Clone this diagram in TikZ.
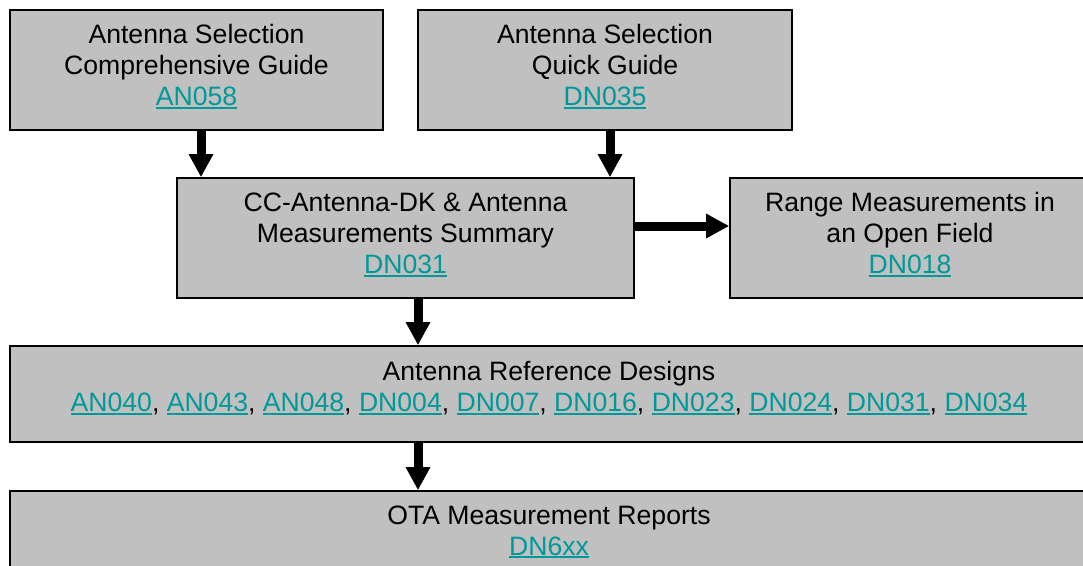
\documentclass[tikz,border=0pt]{standalone}
\usepackage{fontspec}
\setmainfont{Liberation Sans}
\usetikzlibrary{arrows.meta}
\definecolor{boxgray}{RGB}{192,192,192}
\definecolor{linkc}{RGB}{0,153,153}
\newcommand\lnk[1]{{\color{linkc}\setbox0\hbox{#1}\rlap{\rule[-3.2pt]{\wd0}{1.8pt}}\box0}}
\begin{document}
\begin{tikzpicture}[x=1pt,y=-1pt,
  box/.style={draw=black, line width=1.6pt, fill=boxgray, align=center,
    font=\fontsize{26.6}{31}\selectfont, inner sep=0pt},
  tall/.style={box, minimum height=120pt, text depth=9.5pt},
  wide/.style={box, minimum width=1078pt, text depth=15.5pt},
  arr/.style={line width=9pt, -{Triangle[width=23pt,length=23pt]}}]
\useasboundingbox (0,0) rectangle (1083,565);
\clip (0,0) rectangle (1083,565);
\node[tall, minimum width=373pt] (b1) at (196.5,70)
  {Antenna Selection\\Comprehensive Guide\\\lnk{AN058}};
\node[tall, minimum width=374pt] (b2) at (605,70)
  {Antenna Selection\\Quick Guide\\\lnk{DN035}};
\node[tall, minimum width=457pt] (b3) at (405.5,238)
  {CC-Antenna-DK \& Antenna\\Measurements Summary\\\lnk{DN031}};
\node[tall, minimum width=360pt] (b4) at (910,238)
  {Range Measurements in\\an Open Field\\\lnk{DN018}};
\node[wide, minimum height=96pt] (b5) at (549,394)
  {Antenna Reference Designs\\\lnk{AN040}, \lnk{AN043}, \lnk{AN048}, \lnk{DN004}, \lnk{DN007}, \lnk{DN016}, \lnk{DN023}, \lnk{DN024}, \lnk{DN031}, \lnk{DN034}};
\node[wide, minimum height=94pt] (b6) at (549,538)
  {OTA Measurement Reports\\\lnk{DN6xx}};
\coordinate (ca) at (201,0);
\coordinate (cb) at (610,0);
\coordinate (cc) at (418,0);
\coordinate (cy) at (0,226);
\draw[arr] (b1.south -| ca) -- (b3.north -| ca);
\draw[arr] (b2.south -| cb) -- (b3.north -| cb);
\draw[arr] (b3.east |- cy) -- (b4.west |- cy);
\draw[arr] (b3.south -| cc) -- (b5.north -| cc);
\draw[arr] (b5.south -| cc) -- (b6.north -| cc);
\end{tikzpicture}
\end{document}
